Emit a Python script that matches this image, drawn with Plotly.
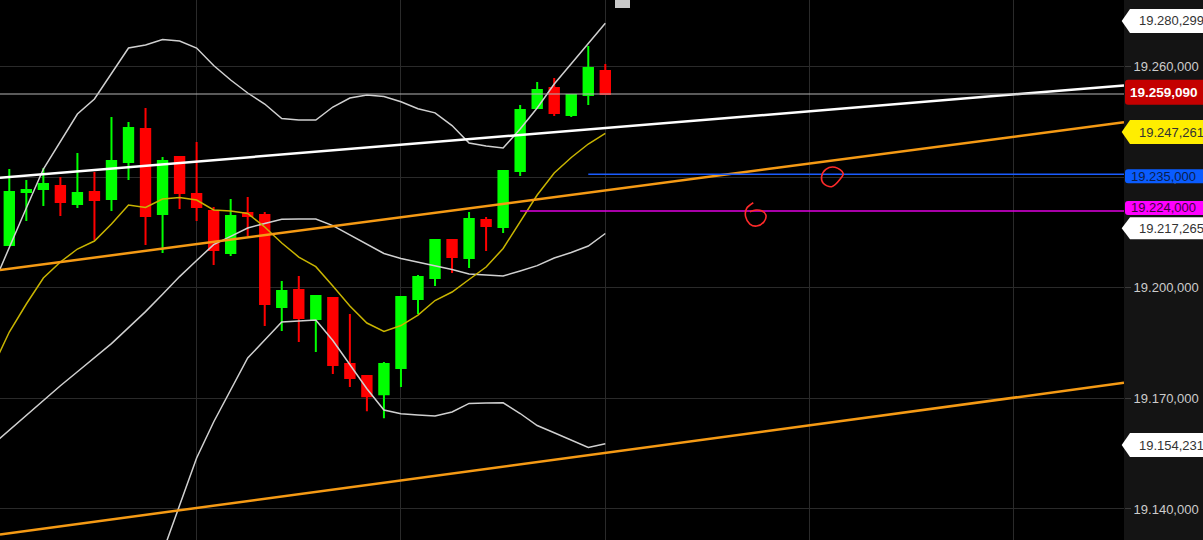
import plotly.graph_objects as go

# ---------------- data ----------------
candle_idx = list(range(36))
opens = [19213.8, 19229.7, 19230.6, 19231.5, 19226.1, 19229.7, 19227.6, 19238.7, 19248.6, 19223.1,
         19240.2, 19229.1, 19224.0, 19211.4, 19223.4, 19222.8, 19195.2, 19200.3, 19191.6, 19197.9,
         19178.1, 19174.5, 19169.1, 19176.9, 19197.6, 19203.9, 19215.3, 19209.9, 19221.3, 19219.2,
         19236.0, 19254.9, 19260.9, 19252.8, 19258.8, 19266.0]
highs = [19236.6, 19233.3, 19236.9, 19234.2, 19241.4, 19235.7, 19252.2, 19250.7, 19254.9, 19240.2,
         19240.5, 19244.7, 19225.2, 19227.6, 19228.2, 19223.7, 19203.0, 19204.5, 19198.8, 19198.2,
         19193.1, 19174.8, 19178.7, 19198.2, 19204.8, 19215.6, 19215.6, 19223.7, 19222.2, 19236.0,
         19255.8, 19262.7, 19263.9, 19258.8, 19273.5, 19268.1]
lows = [19213.8, 19221.0, 19225.5, 19222.5, 19224.9, 19215.3, 19224.0, 19233.3, 19213.8, 19211.4,
        19224.6, 19221.0, 19207.8, 19210.5, 19216.5, 19189.5, 19188.0, 19184.7, 19181.7, 19175.1,
        19171.2, 19164.0, 19161.9, 19171.2, 19193.1, 19201.5, 19205.4, 19206.9, 19212.0, 19217.4,
        19234.5, 19254.9, 19252.5, 19252.2, 19255.8, 19259.09]
closes = [19229.7, 19230.3, 19232.1, 19226.7, 19229.4, 19227.3, 19239.0, 19248.9, 19222.5, 19239.0,
          19229.4, 19225.2, 19212.3, 19222.5, 19222.5, 19196.1, 19200.0, 19191.9, 19198.5, 19177.8,
          19173.9, 19168.5, 19178.1, 19198.2, 19204.2, 19215.3, 19210.2, 19221.6, 19219.5, 19236.0,
          19254.3, 19260.3, 19253.4, 19258.8, 19266.9, 19259.09]

band_idx = list(range(-1, 36))
bb_upper = [19201.22, 19213.21, 19224.91, 19236.60, 19245.00, 19253.09, 19257.59, 19265.39, 19272.88,
            19273.78, 19275.43, 19274.98, 19272.88, 19267.64, 19263.29, 19259.39, 19256.09, 19251.74,
            19251.29, 19251.29, 19255.19, 19257.89, 19258.79, 19258.34, 19256.78, 19254.68, 19253.45,
            19249.64, 19244.40, 19243.50, 19242.90, 19248.60, 19254.89, 19262.09, 19268.09, 19274.08,
            19280.299]
bb_middle = [19153.84, 19158.34, 19162.84, 19167.34, 19171.62, 19175.82, 19180.02, 19184.25, 19189.05,
             19193.84, 19199.06, 19204.34, 19209.17, 19213.93, 19216.42, 19218.91, 19220.26, 19221.55,
             19221.61, 19221.61, 19219.63, 19216.81, 19213.99, 19211.26, 19209.76, 19208.72, 19207.70,
             19206.47, 19205.12, 19204.82, 19204.52, 19206.02, 19207.64, 19209.91, 19211.56, 19213.51,
             19217.265]
fast_ma = [19176.93, 19187.73, 19196.12, 19203.92, 19208.72, 19212.61, 19215.01, 19220.11, 19225.81,
           19225.06, 19227.61, 19228.06, 19227.31, 19224.31, 19224.01, 19223.26, 19219.21, 19214.41,
           19210.21, 19207.31, 19201.52, 19195.52, 19190.42, 19187.88, 19189.67, 19192.82, 19197.17,
           19199.72, 19203.47, 19207.22, 19212.76, 19220.71, 19228.81, 19235.40, 19240.05, 19244.10,
           19247.261]
lower_idx = list(range(8, 36))
bb_lower = [19107.37, 19121.46, 19135.55, 19149.94, 19160.74, 19170.33, 19179.93, 19185.33, 19190.72,
            19191.02, 19191.32, 19185.18, 19177.98, 19170.72, 19164.34, 19163.20, 19162.84, 19162.54,
            19163.74, 19166.32, 19166.44, 19166.50, 19163.29, 19159.69, 19157.50, 19155.34, 19153.09,
            19154.231]

# hand-drawn trend lines (start/end index, start/end value)
trend_x = [-0.546, 65.46]
white_trend = [19233.99, 19261.67]
orange_upper = [19206.32, 19250.63]
orange_lower = [19127.01, 19172.49]

last_price = 19259.09
blue_level = 19235.0
blue_start = 34
magenta_level = 19224.0
magenta_start = 30

# hand-drawn red marks
mark1_x = [47.95, 48.49, 48.97, 48.78, 48.29, 47.80, 47.70, 47.95]
mark1_y = [19236.5, 19237.11, 19235.31, 19233.51, 19231.30, 19232.31, 19234.29, 19236.5]
mark2_x = [43.69, 43.30, 43.24, 43.49, 43.89, 44.32, 44.43, 44.18, 43.85, 43.49]
mark2_y = [19226.50, 19224.82, 19222.30, 19220.11, 19219.51, 19220.80, 19222.81, 19224.10, 19224.31, 19223.80]

grid_idx = [11, 23, 35, 47, 59]
tick_vals = [19140, 19170, 19200, 19230, 19260]


def fmt(v):
    s = f"{v:,.3f}"
    return s.replace(",", "X").replace(".", ",").replace("X", ".")


tick_text = [fmt(v) for v in tick_vals]

# ---------------- figure ----------------
W, H = 1203, 540
PLOT_W = 1124
X_RANGE = [-0.546, 65.46]
Y_RANGE = [19125.36, 19287.28]
Y2_RANGE = [19131.59, 19278.03]
FONT = "Liberation Sans, Arial, sans-serif"

fig = go.Figure()

fig.add_trace(go.Candlestick(
    x=candle_idx, open=opens, high=highs, low=lows, close=closes,
    increasing=dict(line=dict(color="#00ff00", width=2), fillcolor="#00ff00"),
    decreasing=dict(line=dict(color="#ff0000", width=2), fillcolor="#ff0000"),
    whiskerwidth=0, hoverinfo="skip", showlegend=False))

band_line = dict(color="#d0d0d0", width=1.5)
fig.add_trace(go.Scatter(x=band_idx, y=bb_upper, mode="lines", line=band_line, hoverinfo="skip"))
fig.add_trace(go.Scatter(x=band_idx, y=bb_middle, mode="lines", line=band_line, hoverinfo="skip"))
fig.add_trace(go.Scatter(x=lower_idx, y=bb_lower, mode="lines", line=band_line, hoverinfo="skip"))
fig.add_trace(go.Scatter(x=band_idx, y=fast_ma, mode="lines", line=dict(color="#c8b400", width=1.5),
                         hoverinfo="skip"))

fig.add_trace(go.Scatter(x=trend_x, y=white_trend, mode="lines", line=dict(color="#ffffff", width=2.5),
                         hoverinfo="skip"))
fig.add_trace(go.Scatter(x=trend_x, y=orange_upper, mode="lines", line=dict(color="#f59a14", width=2.5),
                         hoverinfo="skip"))
fig.add_trace(go.Scatter(x=trend_x, y=orange_lower, mode="lines", line=dict(color="#f59a14", width=2.5),
                         hoverinfo="skip"))

fig.add_trace(go.Scatter(x=X_RANGE, y=[last_price, last_price], mode="lines",
                         line=dict(color="#b4b4b4", width=1), hoverinfo="skip"))
fig.add_trace(go.Scatter(x=[blue_start, X_RANGE[1]], y=[blue_level, blue_level], mode="lines",
                         line=dict(color="#1a5cff", width=1.5), hoverinfo="skip"))
fig.add_trace(go.Scatter(x=[magenta_start, X_RANGE[1]], y=[magenta_level, magenta_level], mode="lines",
                         line=dict(color="#e000e0", width=1.5), hoverinfo="skip"))

fig.add_trace(go.Scatter(x=mark1_x, y=mark1_y, mode="lines", line=dict(color="#ff2a2a", width=1.6, shape="spline"),
                         hoverinfo="skip"))
fig.add_trace(go.Scatter(x=mark2_x, y=mark2_y, mode="lines", line=dict(color="#ff2a2a", width=1.6, shape="spline"),
                         hoverinfo="skip"))

# invisible trace so the right-hand price scale is drawn
fig.add_trace(go.Scatter(x=[0], y=[19200], yaxis="y2", mode="markers", marker=dict(opacity=0),
                         hoverinfo="skip"))

# ---------------- price tags on the right scale ----------------
# (value, kind, pixel shift, half height, fill, text colour, bold)
tags = [
    (bb_upper[-1], "arrow", 2.3, 12, "#ffffff", "#333333", False),
    (last_price, "rect", 1.8, 12.5, "#c40000", "#ffffff", True),
    (fast_ma[-1], "arrow", 1.4, 12, "#ffee00", "#333333", False),
    (blue_level, "rect", -1.9, 7, "#0a5cff", "#0b1f4d", False),
    (magenta_level, "rect", 3.1, 7, "#ff00ff", "#3d003d", False),
    (bb_middle[-1], "arrow", 5.3, 11, "#ffffff", "#333333", False),
    (bb_lower[-1], "arrow", -1.4, 12, "#ffffff", "#333333", False),
]

shapes = []
annotations = []
for val, kind, sh, hh, fill, tcol, bold in tags:
    top, bot = sh + hh, sh - hh
    if kind == "arrow":
        path = f"M -2.3,{sh} L 6,{top} L 100,{top} L 100,{bot} L 6,{bot} Z"
        tx = 1136.5
    else:
        r = 3
        path = (f"M {1 + r},{top} L 100,{top} L 100,{bot} L {1 + r},{bot} "
                f"Q 1,{bot} 1,{bot + r} L 1,{top - r} Q 1,{top} {1 + r},{top} Z")
        tx = 1127.5 if bold else 1128.5
    shapes.append(dict(type="path", xref="paper", yref="y", xsizemode="pixel", ysizemode="pixel",
                       xanchor=PLOT_W / W, yanchor=val, path=path, fillcolor=fill,
                       line=dict(width=0), layer="above"))
    txt = fmt(val)
    annotations.append(dict(xref="paper", yref="y", x=tx / W, y=val, yshift=sh, xanchor="left",
                            yanchor="middle", showarrow=False,
                            text=f"<b>{txt}</b>" if bold else txt,
                            font=dict(family=FONT, size=13 if not bold else 13.5, color=tcol)))

# small grey handle at the top
shapes.append(dict(type="rect", xref="x", yref="paper", x0=35.57, x1=36.45, y0=1 - 8 / H, y1=1.0,
                   fillcolor="#c8c8c8", line=dict(width=0), layer="above"))

fig.update_layout(
    width=W, height=H, autosize=False,
    margin=dict(l=0, r=0, t=0, b=0, pad=0),
    paper_bgcolor="#141414", plot_bgcolor="#000000",
    showlegend=False, boxgap=0.45, boxgroupgap=0,
    shapes=shapes, annotations=annotations,
    xaxis=dict(domain=[0, PLOT_W / W], range=X_RANGE, tickvals=grid_idx, showticklabels=False,
               ticks="", showgrid=True, gridcolor="#2a2a2a", gridwidth=1, zeroline=False,
               showline=False, rangeslider=dict(visible=False)),
    yaxis=dict(range=Y_RANGE, showticklabels=False, showgrid=False, zeroline=False, showline=False,
               ticks=""),
    yaxis2=dict(overlaying="y", side="right", anchor="x", range=Y2_RANGE, tickvals=tick_vals,
                ticktext=tick_text, showgrid=True, gridcolor="#2a2a2a", gridwidth=1, zeroline=False,
                showline=False, ticks="outside", ticklen=6, tickcolor="#3a3a3a",
                tickfont=dict(color="#cccccc", size=13, family=FONT)),
)

fig.write_html(
    "out.html",
    config={"displayModeBar": False},
    post_script="document.body.style.margin='0';document.body.style.background='#141414';"
                "document.body.style.overflow='hidden';",
)
